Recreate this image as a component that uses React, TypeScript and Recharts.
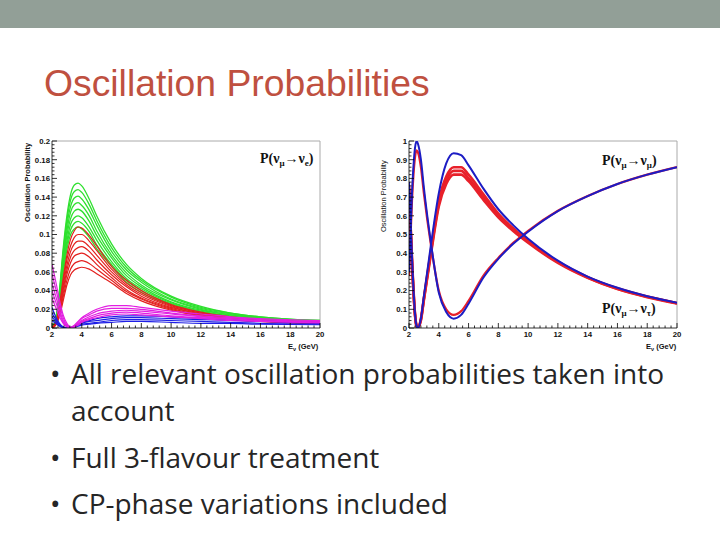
import React from 'react';
import { LineChart, Line, XAxis, YAxis, ReferenceLine } from 'recharts';

// ---- left panel: P(numu -> nue), CP phase variations ----
const eApp = [2, 2.25, 2.5, 2.75, 3, 3.25, 3.5, 3.75, 4, 4.5, 5, 6, 7, 8, 10, 12, 14, 16, 20];

const appGreen = [
  [0, .01, .04, .085, .12, .143, .153, .155, .152, .138, .12, .09, .068, .053, .034, .023, .016, .012, .008],
  [0, .01, .038, .081, .115, .137, .146, .148, .145, .132, .115, .086, .065, .051, .033, .022, .016, .012, .008],
  [0, .009, .036, .077, .11, .13, .139, .141, .138, .126, .11, .082, .062, .049, .031, .021, .015, .011, .0075],
  [0, .009, .034, .073, .104, .124, .132, .134, .131, .12, .104, .078, .059, .046, .03, .02, .014, .011, .0072],
  [0, .008, .032, .069, .099, .117, .125, .127, .125, .114, .099, .075, .056, .044, .028, .019, .014, .01, .007],
  [0, .008, .03, .065, .093, .111, .118, .12, .118, .108, .094, .071, .053, .042, .027, .018, .013, .01, .0066],
  [0, .007, .029, .062, .089, .105, .112, .114, .112, .103, .089, .068, .051, .04, .026, .017, .012, .009, .0063],
  [0, .007, .027, .058, .084, .1, .106, .108, .106, .097, .085, .066, .049, .038, .025, .017, .012, .009, .006],
];

const appRed = [
  [0, .006, .024, .053, .078, .095, .104, .108, .107, .099, .088, .066, .051, .04, .025, .017, .012, .009, .006],
  [0, .006, .022, .049, .073, .088, .097, .1, .1, .093, .083, .063, .048, .038, .024, .016, .011, .0085, .0058],
  [0, .005, .02, .045, .067, .082, .09, .093, .093, .087, .078, .06, .046, .036, .023, .015, .011, .008, .0055],
  [0, .005, .018, .041, .062, .076, .083, .086, .087, .082, .073, .057, .044, .034, .022, .015, .01, .008, .0053],
  [0, .004, .016, .037, .057, .07, .077, .079, .08, .076, .068, .054, .041, .032, .021, .014, .01, .0075, .005],
  [0, .004, .014, .033, .051, .063, .069, .071, .072, .069, .063, .051, .039, .031, .02, .013, .0095, .007, .0048],
  [0, .003, .012, .029, .046, .057, .062, .064, .065, .063, .058, .048, .037, .029, .019, .013, .009, .007, .0045],
];

const appBlue = [
  [.022, .012, .005, .001, .0002, .0005, .002, .004, .006, .008, .01, .012, .013, .013, .012, .01, .009, .008, .006],
  [.016, .009, .004, .001, 0, .0004, .0015, .003, .005, .007, .008, .01, .011, .011, .01, .009, .008, .007, .005],
  [.012, .007, .003, .0008, 0, .0003, .001, .0025, .004, .005, .006, .008, .009, .009, .008, .007, .006, .005, .004],
  [.008, .005, .002, .0005, 0, .0002, .0008, .002, .003, .004, .005, .006, .007, .007, .006, .005, .005, .004, .0035],
];

const appMagenta = [
  [.068, .05, .03, .014, .005, .001, .003, .007, .011, .016, .02, .024, .024, .022, .018, .015, .012, .01, .008],
  [.058, .042, .025, .011, .003, .0005, .002, .006, .01, .014, .018, .021, .021, .02, .016, .013, .011, .009, .0072],
  [.048, .034, .02, .008, .002, .0003, .002, .005, .008, .012, .015, .018, .019, .018, .015, .012, .01, .008, .0066],
  [.04, .028, .016, .006, .0015, .0002, .0015, .004, .007, .01, .013, .016, .017, .016, .013, .011, .009, .0075, .006],
  [.032, .022, .012, .005, .001, 0, .001, .003, .006, .009, .011, .014, .015, .014, .012, .01, .008, .007, .0055],
];

// ---- right panel: P(numu -> numu), P(numu -> nutau) ----
const eDis = [2, 2.2, 2.4, 2.5, 2.6, 2.8, 3, 3.5, 4, 4.5, 5, 5.5, 6, 7, 8, 9, 10, 12, 14, 16, 18, 20];

const numuBlue = [.3, .72, .96, 1.0, .985, .9, .75, .44, .19, .085, .05, .07, .13, .27, .37, .45, .515, .625, .705, .77, .82, .86];
const numuRed = [.28, .68, .91, .95, .94, .86, .72, .43, .2, .1, .07, .09, .145, .28, .375, .455, .52, .627, .706, .77, .82, .86];
const nutauBlue = [.78, .38, .08, .015, 0, .05, .17, .46, .72, .88, .935, .925, .87, .745, .635, .55, .477, .36, .275, .215, .17, .135];
const nutauRed = [
  [.76, .37, .08, .015, .005, .05, .16, .43, .68, .81, .86, .86, .82, .715, .612, .533, .466, .355, .272, .212, .168, .133],
  [.75, .36, .075, .012, .003, .045, .155, .42, .665, .79, .84, .84, .8, .7, .602, .526, .461, .352, .27, .21, .167, .132],
  [.74, .35, .07, .01, .002, .04, .15, .41, .65, .77, .82, .82, .785, .685, .592, .519, .456, .348, .268, .208, .165, .131],
];

// axis ticks
const xMajor = [2, 4, 6, 8, 10, 12, 14, 16, 18, 20];
const appYMajor = [0, 0.02, 0.04, 0.06, 0.08, 0.1, 0.12, 0.14, 0.16, 0.18, 0.2];
const disYMajor = [0, 0.1, 0.2, 0.3, 0.4, 0.5, 0.6, 0.7, 0.8, 0.9, 1];

const withMinor = (major: number[], n: number) => {
  const out: number[] = [];
  for (let i = 0; i < major.length - 1; i++) {
    const step = (major[i + 1] - major[i]) / n;
    for (let k = 0; k < n; k++) out.push(+(major[i] + k * step).toFixed(6));
  }
  out.push(major[major.length - 1]);
  return out;
};

const isMajor = (major: number[], v: number) => major.some(m => Math.abs(m - v) < 1e-9);

const tickFont = '"Liberation Sans", Arial, sans-serif';

const makeYTick = (major: number[]) => (props: any) => {
  const { x, y, payload } = props;
  const big = isMajor(major, payload.value);
  return (
    <g>
      <line x1={x} y1={y} x2={x + (big ? 5 : 2.5)} y2={y} stroke="#000" strokeWidth={0.8} />
      {big && (
        <text x={x - 2} y={y + 2.8} textAnchor="end" fontSize={7.8} fontWeight="bold" fontFamily={tickFont} fill="#111">
          {String(+payload.value.toFixed(3))}
        </text>
      )}
    </g>
  );
};

const XTick = (props: any) => {
  const { x, y, payload } = props;
  const big = isMajor(xMajor, payload.value);
  return (
    <g>
      <line x1={x} y1={y} x2={x} y2={y - (big ? 5 : 2.5)} stroke="#000" strokeWidth={0.8} />
      {big && (
        <text x={x} y={y + 9} textAnchor="middle" fontSize={7.8} fontWeight="bold" fontFamily={tickFont} fill="#111">
          {payload.value}
        </text>
      )}
    </g>
  );
};

const appRows = eApp.map((e, i) => {
  const row: Record<string, number> = { e };
  appGreen.forEach((c, k) => (row['g' + k] = c[i]));
  appRed.forEach((c, k) => (row['r' + k] = c[i]));
  appBlue.forEach((c, k) => (row['b' + k] = c[i]));
  appMagenta.forEach((c, k) => (row['m' + k] = c[i]));
  return row;
});

const disRows = eDis.map((e, i) => {
  const row: Record<string, number> = { e, mmB: numuBlue[i], mmR: numuRed[i], mtB: nutauBlue[i] };
  nutauRed.forEach((c, k) => (row['mtR' + k] = c[i]));
  return row;
});

const curve = (key: string, color: string, width: number) => (
  <Line key={key} dataKey={key} type="monotone" stroke={color} strokeWidth={width} dot={false} activeDot={false} isAnimationActive={false} />
);

const abs = (l: number, t: number): React.CSSProperties => ({ position: 'absolute', left: l, top: t });

const procLabel: React.CSSProperties = {
  fontFamily: '"Liberation Serif", "Times New Roman", serif',
  fontSize: 14,
  fontWeight: 'bold',
  color: '#111',
  whiteSpace: 'nowrap',
  lineHeight: '16px',
};
const sub: React.CSSProperties = { fontSize: 9, verticalAlign: -3 };

const axisTitle = (l: number, t: number, weight: string): React.CSSProperties => ({
  ...abs(l, t),
  fontFamily: tickFont,
  fontSize: 7.5,
  fontWeight: weight as any,
  color: '#111',
  whiteSpace: 'nowrap',
  transform: 'rotate(-90deg)',
  transformOrigin: '0 0',
  lineHeight: '9px',
});

const eLabel = (l: number, t: number): React.CSSProperties => ({
  ...abs(l, t),
  fontFamily: tickFont,
  fontSize: 7.5,
  fontWeight: 'bold',
  color: '#111',
  whiteSpace: 'nowrap',
  lineHeight: '9px',
});

const bulletText: React.CSSProperties = {
  fontFamily: '"Open Sans", Lato, sans-serif',
  fontSize: 28,
  color: '#262626',
  lineHeight: '32px',
  whiteSpace: 'nowrap',
  fontVariantLigatures: 'none',
};

const bullets = [
  { text: 'All relevant oscillation probabilities taken into', top: 357, dot: true },
  { text: 'account', top: 394, dot: false },
  { text: 'Full 3-flavour treatment', top: 441, dot: true },
  { text: 'CP-phase variations included', top: 487, dot: true },
];

export default function App() {
  return (
    <div style={{ position: 'absolute', left: 0, top: 0, width: 720, height: 540, background: '#fff', overflow: 'hidden' }}>
      <div style={{ ...abs(0, 0), width: 720, height: 28, background: '#929f97' }} />
      <div style={{ ...abs(44, 61), fontFamily: '"Liberation Sans", Arial, sans-serif', fontSize: 37.3, color: '#bf5040', lineHeight: '44px', whiteSpace: 'nowrap' }}>
        Oscillation Probabilities
      </div>

      {/* left chart: appearance */}
      <div style={abs(20, 130)}>
        <LineChart width={310} height={225} data={appRows} margin={{ top: 11, right: 10, bottom: 7, left: 2 }}>
          <XAxis dataKey="e" type="number" domain={[2, 20]} ticks={withMinor(xMajor, 5)} interval={0}
            tick={XTick} tickSize={0} tickMargin={0} height={20} axisLine={{ stroke: '#000', strokeWidth: 0.8 }} allowDataOverflow />
          <YAxis type="number" domain={[0, 0.2]} ticks={withMinor(appYMajor, 5)} interval={0}
            tick={makeYTick(appYMajor)} tickSize={0} tickMargin={0} width={30} axisLine={{ stroke: '#000', strokeWidth: 0.8 }} allowDataOverflow />
          <ReferenceLine y={0.2} stroke="#aaa" strokeWidth={1} />
          <ReferenceLine x={20} stroke="#aaa" strokeWidth={1} />
          {appGreen.map((_, k) => curve('g' + k, '#2fe02f', 1.3))}
          {appRed.map((_, k) => curve('r' + k, '#e3201e', 1.2))}
          {appBlue.map((_, k) => curve('b' + k, '#1e1ee6', 1.2))}
          {appMagenta.map((_, k) => curve('m' + k, '#e21fe2', 1.2))}
        </LineChart>
      </div>
      <div style={axisTitle(23, 222, 'bold')}>Oscillation Probability</div>
      <div style={eLabel(288, 342)}>E<span style={{ fontSize: 5.5, verticalAlign: -1.5 }}>ν</span> (GeV)</div>
      <div style={{ ...abs(260, 151), ...procLabel }}>
        P(ν<span style={sub}>μ</span>→ν<span style={sub}>e</span>)
      </div>

      {/* right chart: disappearance */}
      <div style={abs(370, 130)}>
        <LineChart width={320} height={225} data={disRows} margin={{ top: 11, right: 13, bottom: 7, left: 9 }}>
          <XAxis dataKey="e" type="number" domain={[2, 20]} ticks={withMinor(xMajor, 5)} interval={0}
            tick={XTick} tickSize={0} tickMargin={0} height={20} axisLine={{ stroke: '#000', strokeWidth: 0.8 }} allowDataOverflow />
          <YAxis type="number" domain={[0, 1]} ticks={withMinor(disYMajor, 5)} interval={0}
            tick={makeYTick(disYMajor)} tickSize={0} tickMargin={0} width={30} axisLine={{ stroke: '#000', strokeWidth: 0.8 }} allowDataOverflow />
          <ReferenceLine y={1} stroke="#aaa" strokeWidth={1} />
          <ReferenceLine x={20} stroke="#aaa" strokeWidth={1} />
          {nutauRed.map((_, k) => curve('mtR' + k, '#e8202a', 2.6))}
          {curve('mmR', '#e8202a', 2.2)}
          {curve('mtB', '#1c1cc4', 2)}
          {curve('mmB', '#1c1cc4', 2)}
        </LineChart>
      </div>
      <div style={axisTitle(379, 232, 'normal')}>Oscillation Probability</div>
      <div style={eLabel(646, 342)}>E<span style={{ fontSize: 5.5, verticalAlign: -1.5 }}>ν</span> (GeV)</div>
      <div style={{ ...abs(602, 153), ...procLabel }}>
        P(ν<span style={sub}>μ</span>→ν<span style={sub}>μ</span>)
      </div>
      <div style={{ ...abs(602, 301), ...procLabel }}>
        P(ν<span style={sub}>μ</span>→ν<span style={sub}>τ</span>)
      </div>

      {/* bullets */}
      {bullets.map((l, i) => (
        <React.Fragment key={i}>
          {l.dot && <div style={{ ...abs(50, l.top), ...bulletText }}>•</div>}
          <div style={{ ...abs(71, l.top), ...bulletText }}>{l.text}</div>
        </React.Fragment>
      ))}
    </div>
  );
}
